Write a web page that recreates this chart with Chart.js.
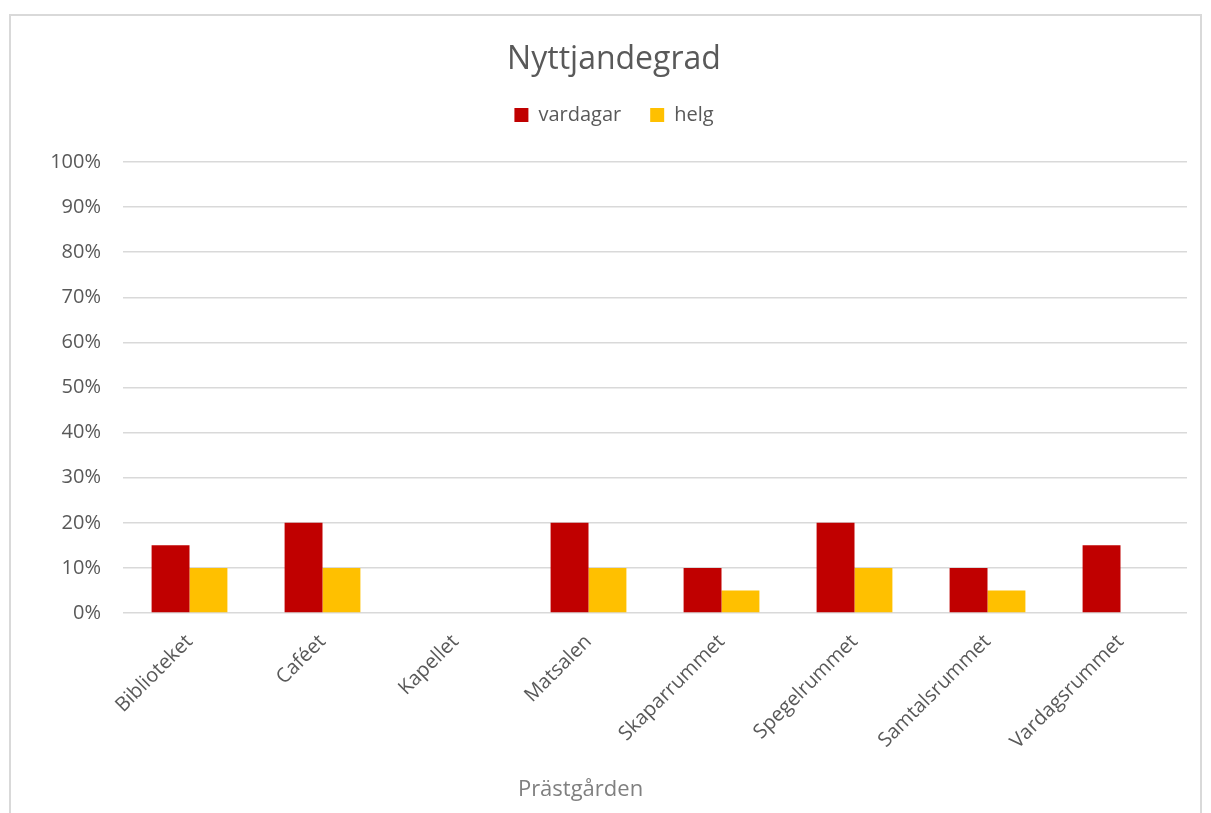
<!DOCTYPE html>
<html>
<head>
<meta charset="utf-8">
<style>
    body { margin: 0; background: #fff; overflow: hidden; }
    #box { position: absolute; left: 9px; top: 14px; width: 1189px; height: 810px; border: 2px solid #d9d9d9; }
    #wrap { position: relative; width: 1189px; height: 797px; }
</style>
</head>
<body>
    <div id="box">
        <div id="wrap"><canvas id="myChart"></canvas></div>
    </div>
    <script src="https://cdn.jsdelivr.net/npm/chart.js"></script>

    <script>
        const rooms = ['Biblioteket', 'Caféet', 'Kapellet', 'Matsalen', 'Skaparrummet', 'Spegelrummet', 'Samtalsrummet', 'Vardagsrummet']
        const vardagar = [15, 20, 0, 20, 10, 20, 10, 15]
        const helg = [10, 10, 0, 10, 5, 10, 5, 0]
        const yTicks = [0, 10, 20, 30, 40, 50, 60, 70, 80, 90, 100]
        const xTitle = 'Prästgården'

        const font = 'Open Sans'
        const textColor = '#595959'
        const gridColor = '#d9d9d9'

        // extra room below the legend, like in the excel chart
        const legendGap = {
            id: 'legendGap',
            afterInit(chart) {
                const lg = chart.legend
                const origFit = lg.fit
                lg.fit = function () {
                    origFit.call(this)
                    this.height = 86
                }
            }
        }

        // axis title sits a bit left of the plot centre in the original
        const axisTitle = {
            id: 'axisTitle',
            afterDraw(chart) {
                const a = chart.chartArea
                const c = chart.ctx
                c.save()
                c.font = '22px "' + font + '"'
                c.fillStyle = '#808080'
                c.textAlign = 'center'
                c.textBaseline = 'middle'
                c.fillText(xTitle, a.left + (a.right - a.left) * 0.43, chart.height - 23)
                c.restore()
            }
        }

        const ctx = document.getElementById('myChart').getContext('2d')
        const chart = new Chart(ctx, {
            type: 'bar',
            data: {
                labels: rooms,
                datasets: [
                    { label: 'vardagar', data: vardagar, backgroundColor: '#C00000' },
                    { label: 'helg', data: helg, backgroundColor: '#FFC000' }
                ]
            },
            options: {
                responsive: true,
                maintainAspectRatio: false,
                animation: false,
                datasets: {
                    bar: { categoryPercentage: 0.57, barPercentage: 1 }
                },
                layout: { padding: { top: 0, right: 13, bottom: 0, left: 30 } },
                plugins: {
                    title: {
                        display: true,
                        text: 'Nyttjandegrad',
                        color: textColor,
                        font: { family: font, size: 32, weight: 'normal', lineHeight: 1 },
                        padding: { top: 28, bottom: 0 }
                    },
                    legend: {
                        position: 'top',
                        labels: {
                            color: textColor,
                            font: { family: font, size: 20 },
                            boxWidth: 14,
                            boxHeight: 14,
                            padding: 29
                        }
                    },
                    tooltip: { enabled: false }
                },
                scales: {
                    x: {
                        grid: { display: false, drawTicks: false },
                        border: { display: false },
                        ticks: {
                            color: textColor,
                            font: { family: font, size: 20 },
                            minRotation: 45,
                            maxRotation: 45,
                            padding: 17
                        },
                        afterFit(scale) { scale.height = 200 }
                    },
                    y: {
                        min: 0,
                        max: 100,
                        grid: { color: gridColor, lineWidth: 1.5, drawTicks: false },
                        border: { display: false },
                        afterBuildTicks(scale) { scale.ticks = yTicks.map(v => ({ value: v })) },
                        ticks: {
                            color: textColor,
                            font: { family: font, size: 20 },
                            padding: 22,
                            callback: v => v + '%'
                        },
                        afterFit(scale) { scale.width = 82 }
                    }
                }
            },
            plugins: [legendGap, axisTitle]
        })
    </script>
</body>
</html>
